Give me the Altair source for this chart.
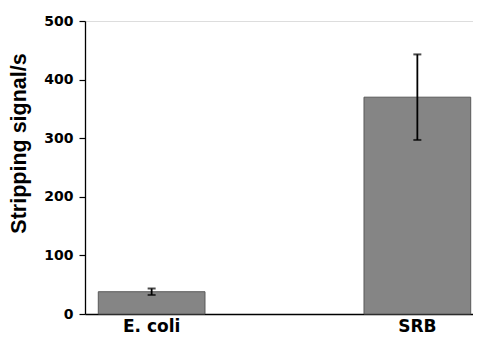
import altair as alt
import pandas as pd

categories = ["E. coli", "SRB"]
means = [38, 370]
errors = [5.5, 73]

df = pd.DataFrame({
    "cat": categories,
    "mean": means,
    "err": errors,
})
df["lo"] = df["mean"] - df["err"]
df["hi"] = df["mean"] + df["err"]

FONT = "DejaVu Sans"
TFONT = "Liberation Sans"

x_enc = alt.X(
    "cat:N",
    sort=categories,
    scale=alt.Scale(paddingInner=0.5984, paddingOuter=0.0293, align=0.853),
    axis=alt.Axis(
        title=None, labelAngle=0, ticks=False, domainColor="black", domainWidth=1.3,
        labelFont=FONT, labelFontWeight="bold", labelFontSize=17, labelColor="black",
        labelPadding=4,
    ),
)

y_scale = alt.Scale(domain=[0, 500], nice=False, zero=True)

bars = alt.Chart(df).mark_bar(color="#858585", stroke="#5a5a5a", strokeWidth=1).encode(
    x=x_enc,
    y=alt.Y(
        "mean:Q",
        scale=y_scale,
        axis=alt.Axis(
            title="Stripping signal/s",
            values=list(range(0, 501, 50)),
            labelExpr="datum.value % 100 == 0 ? datum.label : ''",
            tickSize={"condition": {"test": "datum.value % 100 == 0", "value": 6}, "value": 3},
            tickColor="black", tickWidth=1.2, domainColor="black", domainWidth=1.3,
            grid=False,
            labelFont=FONT, labelFontWeight="bold", labelFontSize=14, labelColor="black",
            labelPadding=6,
            titleFont=TFONT, titleFontWeight="bold", titleFontSize=21.5, titleColor="black",
            titlePadding=13, titleY=122,
        ),
    ),
)

rules = alt.Chart(df).mark_rule(color="black", strokeWidth=1.8).encode(
    x=alt.X("cat:N", sort=categories),
    y=alt.Y("lo:Q", scale=y_scale),
    y2="hi:Q",
)

caps_lo = alt.Chart(df).mark_tick(color="black", size=8, thickness=2).encode(
    x=alt.X("cat:N", sort=categories),
    y=alt.Y("lo:Q", scale=y_scale),
)
caps_hi = alt.Chart(df).mark_tick(color="black", size=8, thickness=2).encode(
    x=alt.X("cat:N", sort=categories),
    y=alt.Y("hi:Q", scale=y_scale),
)

chart = alt.layer(bars, rules, caps_lo, caps_hi).properties(
    width=388,
    height=293,
    autosize=alt.AutoSizeParams(type="none"),
    padding={"left": 77, "top": 13, "right": 0, "bottom": 20},
).configure_view(stroke=None).configure(background="white")

chart.save("out.html", embed_options={"renderer": "svg", "actions": False})
